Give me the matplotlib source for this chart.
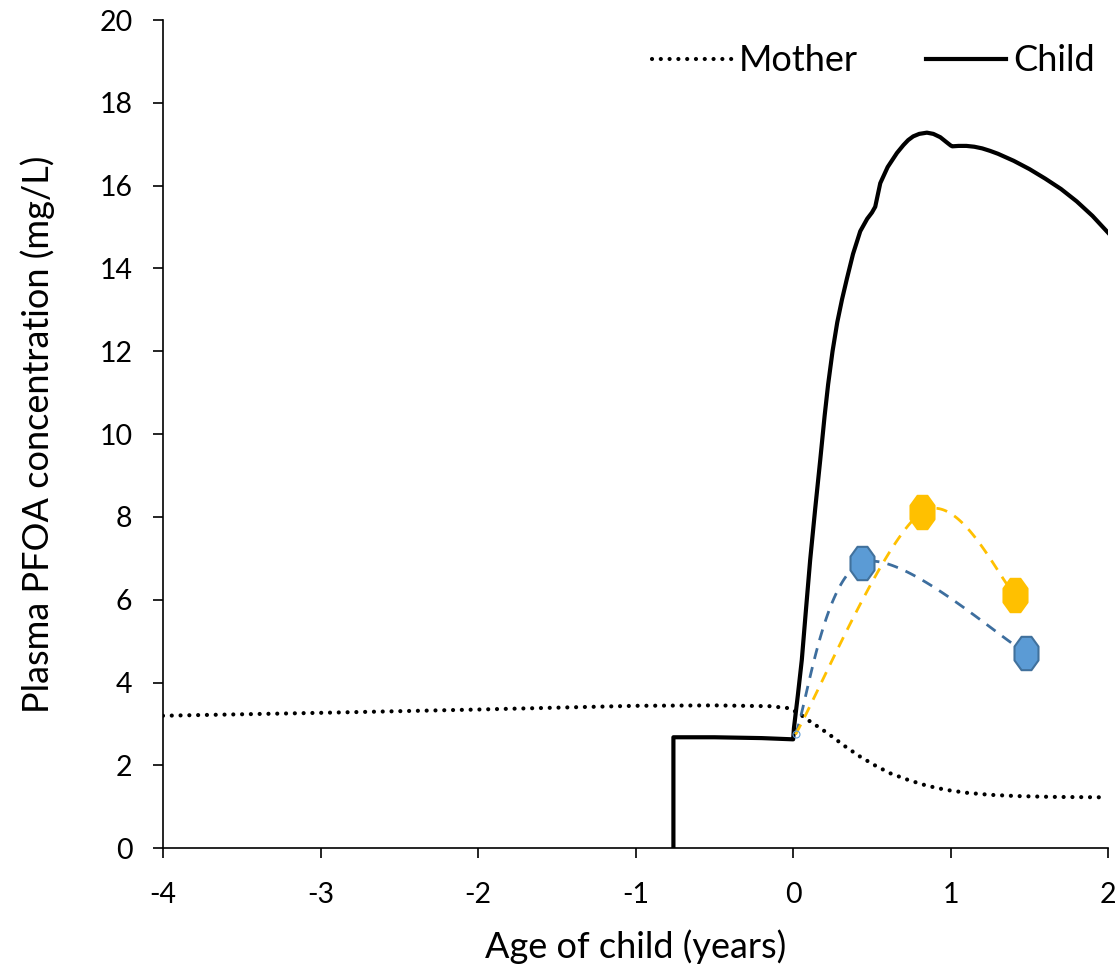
import numpy as np
import matplotlib.pyplot as plt
from matplotlib.path import Path

plt.rcParams['font.family'] = ['Lato', 'DejaVu Sans']
plt.rcParams['axes.unicode_minus'] = False

# Model curves
mother_x = [-4.0, -3.0, -2.0, -1.0, -0.5, -0.15, -0.02, 0.05, 0.108, 0.18, 0.246,
            0.33, 0.426, 0.52, 0.616, 0.73, 0.849, 0.97, 1.10, 1.25, 1.42, 1.65, 1.97]
mother_y = [3.20, 3.27, 3.35, 3.44, 3.45, 3.43, 3.38, 3.22, 3.06, 2.88, 2.70,
            2.46, 2.21, 2.00, 1.81, 1.65, 1.51, 1.41, 1.34, 1.29, 1.26, 1.24, 1.23]

child_x = [-0.76, -0.76, -0.5, -0.2, 0.0, 0.005, 0.03, 0.055, 0.08, 0.108, 0.14,
           0.172, 0.20, 0.222, 0.25, 0.28, 0.31, 0.341, 0.38, 0.426, 0.47, 0.50,
           0.521, 0.553, 0.60, 0.659, 0.70, 0.73, 0.762, 0.80, 0.849, 0.89, 0.934,
           0.97, 1.0, 1.01, 1.05, 1.10, 1.15, 1.20, 1.25, 1.30, 1.40, 1.50, 1.60,
           1.70, 1.80, 1.90, 2.0]
child_y = [0.0, 2.68, 2.68, 2.66, 2.63, 2.90, 3.70, 4.55, 5.70, 6.96, 8.20,
           9.38, 10.45, 11.20, 12.00, 12.70, 13.25, 13.75, 14.35, 14.90, 15.20, 15.35,
           15.49, 16.06, 16.45, 16.79, 16.98, 17.10, 17.19, 17.25, 17.28, 17.25, 17.17,
           17.06, 16.97, 16.95, 16.96, 16.96, 16.94, 16.90, 16.84, 16.77, 16.60, 16.40, 16.17,
           15.92, 15.62, 15.27, 14.86]

# Observed values
blue_x = [0.015, 0.44, 1.48]
blue_y = [2.75, 6.90, 4.72]
yellow_x = [0.015, 0.82, 1.41]
yellow_y = [2.75, 8.12, 6.12]


def smooth(xs, ys, n=60):
    # Excel-style smoothed line (Catmull-Rom as cubic Bezier)
    p = np.column_stack([xs, ys]).astype(float)
    pts = np.vstack([p[0], p, p[-1]])
    out = []
    t = np.linspace(0, 1, n)[:, None]
    for i in range(1, len(pts) - 2):
        p0, p1, p2, p3 = pts[i - 1], pts[i], pts[i + 1], pts[i + 2]
        c1 = p1 + (p2 - p0) / 6
        c2 = p2 - (p3 - p1) / 6
        seg = ((1 - t) ** 3) * p1 + 3 * ((1 - t) ** 2) * t * c1 + 3 * (1 - t) * t ** 2 * c2 + t ** 3 * p2
        out.append(seg)
    out = np.vstack(out)
    return out[:, 0], out[:, 1]


ang = np.pi / 8 + np.arange(8) * np.pi / 4
octa = Path(np.column_stack([0.72 * np.cos(ang), np.sin(ang)]).tolist() + [[0.72 * np.cos(ang[0]), np.sin(ang[0])]],
            closed=True)

fig = plt.figure(figsize=(11.2, 9.67), dpi=100)
ax = fig.add_axes([0.1455, 0.1228, 0.844, 0.8565])

ax.plot(mother_x, mother_y, color='black', lw=3, linestyle=(0, (0.01, 2.1)),
        dash_capstyle='round', label='Mother')
ax.plot(child_x, child_y, color='black', lw=3, label='Child', solid_joinstyle='round')

bx, by = smooth(blue_x, blue_y)
ax.plot(bx, by, color='#3D6E9E', lw=2, linestyle=(0, (4, 3)))
yx, yy = smooth(yellow_x, yellow_y)
ax.plot(yx, yy, color='#FFC000', lw=2, linestyle=(0, (4, 3)))

ax.plot(blue_x[1:], blue_y[1:], linestyle='none', marker=octa, markersize=24,
        markerfacecolor='#5B9BD5', markeredgecolor='#41719C', markeredgewidth=1.5)
ax.plot(yellow_x[1:], yellow_y[1:], linestyle='none', marker=octa, markersize=24,
        markerfacecolor='#FFC000', markeredgecolor='#FFC000', markeredgewidth=1.5)
ax.plot(blue_x[:1], blue_y[:1], linestyle='none', marker='o', markersize=5,
        markerfacecolor='none', markeredgecolor='#5B9BD5', markeredgewidth=0.8)

ax.set_xlim(-4, 2)
ax.set_ylim(0, 20)
ax.set_xticks(range(-4, 3))
ax.set_yticks(range(0, 21, 2))
ax.spines['top'].set_visible(False)
ax.spines['right'].set_visible(False)
for s in ['left', 'bottom']:
    ax.spines[s].set_linewidth(1.2)
ax.tick_params(direction='out', length=7, width=1.2, labelsize=20.5)
ax.tick_params(axis='x', pad=17)
ax.tick_params(axis='y', pad=15)

ax.set_xlabel('Age of child (years)', fontsize=26, labelpad=16)
ax.set_ylabel('Plasma PFOA concentration (mg/L)', fontsize=26, labelpad=32)

ax.legend(loc='upper right', ncol=2, frameon=False, fontsize=26, handlelength=2.2,
          columnspacing=1.9, handletextpad=0.2, bbox_to_anchor=(1.02, 1.01))

fig.savefig('out.png', dpi=100)
